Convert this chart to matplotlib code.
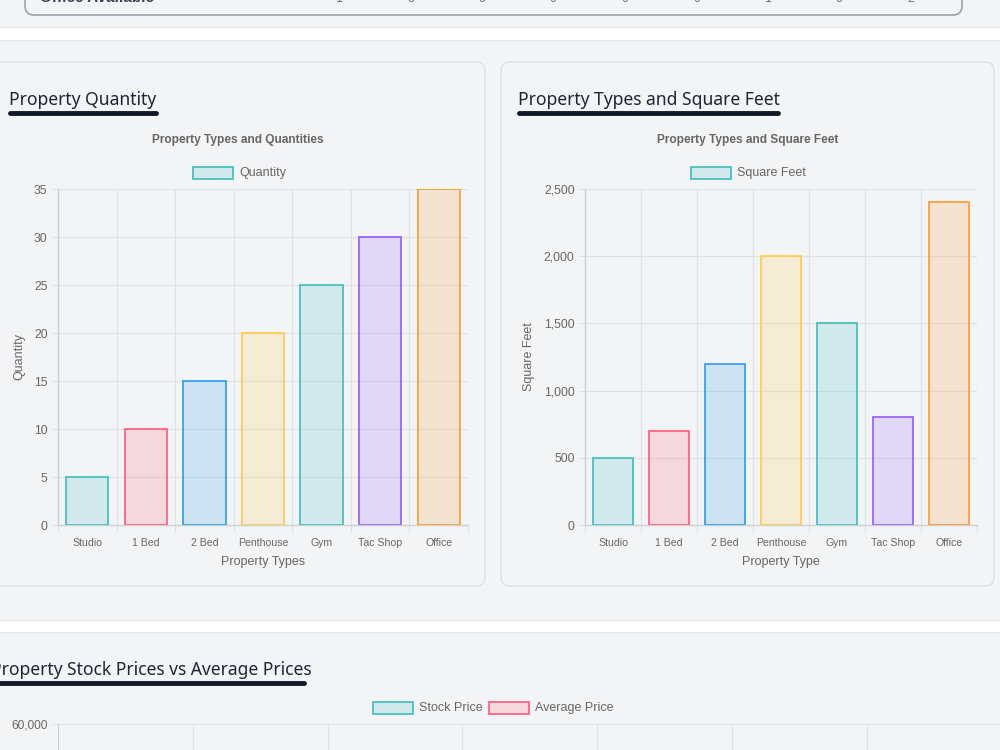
import matplotlib
matplotlib.use("Agg")
import matplotlib.pyplot as plt
from matplotlib.patches import FancyBboxPatch, Rectangle
from matplotlib.colors import to_rgba
from matplotlib.ticker import FuncFormatter

# data
property_types = ["Studio", "1 Bed", "2 Bed", "Penthouse", "Gym", "Tac Shop", "Office"]
quantities = [5, 10, 15, 20, 25, 30, 35]
square_feet = [500, 700, 1200, 2000, 1500, 800, 2400]
table_row_label = "Office Available"
table_row_values = [1, 0, 0, 0, 0, 0, 1, 0, 2]

# chart.js default palette
borders = ["#4bc0c0", "#ff6384", "#36a2eb", "#ffcd56", "#4bc0c0", "#9966ff", "#ff9f40"]
fills = [to_rgba(c, 0.2) for c in borders]

BG = "#f3f4f6"
GRID = "#e0e1e3"
AXIS = "#cfd0d2"
TXT = "#666666"
HEAD = "#1e2533"
CHART_FONT = "Liberation Sans"
HEAD_FONT = "Noto Sans"

W, H = 1000, 750
fig = plt.figure(figsize=(10, 7.5), dpi=100, facecolor=BG)

# background layer in pixel coordinates
bg = fig.add_axes([0, 0, 1, 1])
bg.set_xlim(0, W)
bg.set_ylim(H, 0)
bg.axis("off")


def px_axes(x0, y0, x1, y1):
    return fig.add_axes([x0 / W, 1 - y1 / H, (x1 - x0) / W, (y1 - y0) / H])


def card(x0, y0, x1, y1, edge="#dcdfe3", lw=1.0):
    bg.add_patch(FancyBboxPatch((x0, y0), x1 - x0, y1 - y0,
                                boxstyle="round,pad=0,rounding_size=9",
                                facecolor=BG, edgecolor=edge, linewidth=lw))


def heading(x, y, text, underline_to):
    bg.text(x, y + 2, text, fontsize=12.6, family=HEAD_FONT, color=HEAD,
            ha="left", va="center")
    bg.plot([x + 1, underline_to], [y + 15, y + 15], color="#111827",
            linewidth=3.5, solid_capstyle="round")


def legend_item(x, y, color, label):
    bg.add_patch(Rectangle((x, y - 6), 40, 12, facecolor=to_rgba(color, 0.2),
                           edgecolor=color, linewidth=1.3))
    bg.text(x + 46, y, label, fontsize=9, family=CHART_FONT, color=TXT,
            ha="left", va="center")


# top table box (mostly scrolled out of view)
card(25, -30, 962, 15, edge="#a3a7ae", lw=1.3)
bg.text(40, 2, table_row_label, fontsize=11, family=CHART_FONT,
        fontweight="bold", color="#374151", ha="left", va="baseline")
for i, v in enumerate(table_row_values):
    bg.text(339 + i * 71.5, 2, str(v), fontsize=9, family=CHART_FONT,
            color="#6b7280", ha="center", va="baseline")

# white separator bands
for y0, y1 in [(27, 40), (620, 632)]:
    bg.add_patch(Rectangle((-5, y0), W + 10, y1 - y0, facecolor="white",
                           edgecolor="#e5e7eb", linewidth=0.8))

# cards
card(-20, 62, 485, 586)
card(501, 62, 994, 586)

heading(9, 98, "Property Quantity", 156)
heading(518, 98, "Property Types and Square Feet", 778)
heading(-9, 668, "Property Stock Prices vs Average Prices", 304)


def bar_chart(box, values, ymax, ystep, title, legend_label, legend_x,
              xlabel, ylabel, ylabel_x, comma=False):
    x0, y0, x1, y1 = box
    ax = px_axes(x0, y0, x1, y1)
    ax.set_facecolor("none")
    n = len(property_types)
    ax.bar(range(n), values, width=0.72, color=fills, edgecolor=borders,
           linewidth=1.3, zorder=3)
    ax.set_xlim(-0.5, n - 0.5)
    ax.set_ylim(0, ymax)
    ax.set_yticks(range(0, ymax + 1, ystep))
    if comma:
        ax.yaxis.set_major_formatter(FuncFormatter(lambda v, p: f"{int(v):,}"))
    ax.set_xticks(range(n))
    ax.set_xticklabels(property_types)
    ax.set_xticks([i - 0.5 for i in range(n + 1)], minor=True)
    ax.tick_params(axis="x", which="major", length=0, pad=9, labelsize=7.6,
                   labelcolor=TXT)
    ax.tick_params(axis="x", which="minor", length=5, color=GRID, width=0.8)
    ax.tick_params(axis="y", length=4.5, color=GRID, width=0.8, pad=3,
                   labelsize=8.8, labelcolor=TXT)
    for lab in ax.get_xticklabels() + ax.get_yticklabels():
        lab.set_family(CHART_FONT)
    ax.grid(True, axis="y", which="major", color=GRID, linewidth=0.8, zorder=0)
    ax.grid(True, axis="x", which="minor", color=GRID, linewidth=0.8, zorder=0)
    for s in ["top", "right"]:
        ax.spines[s].set_visible(False)
    for s in ["left", "bottom"]:
        ax.spines[s].set_color(AXIS)
        ax.spines[s].set_linewidth(1.0)
    cx = (x0 + x1) / 2
    bg.text(cx - 25 if not comma else cx - 33, 140, title, fontsize=8.6,
            family=CHART_FONT, fontweight="bold", color=TXT,
            ha="center", va="center")
    legend_item(legend_x, 173, borders[0], legend_label)
    bg.text(cx, 562, xlabel, fontsize=9, family=CHART_FONT, color=TXT,
            ha="center", va="center")
    bg.text(ylabel_x, 357, ylabel, fontsize=9, family=CHART_FONT, color=TXT,
            ha="center", va="center", rotation=90)
    return ax


bar_chart((58, 189, 468, 525), quantities, 35, 5,
          "Property Types and Quantities", "Quantity", 193,
          "Property Types", "Quantity", 19)
bar_chart((585, 189, 977, 525), square_feet, 2500, 500,
          "Property Types and Square Feet", "Square Feet", 691,
          "Property Type", "Square Feet", 529, comma=True)

# bottom chart: only the top of its plot area is visible
legend_item(373, 708, borders[0], "Stock Price")
legend_item(489, 708, borders[1], "Average Price")
axb = px_axes(58, 724, 58 + 7 * 134.8, 1060)
axb.set_facecolor("none")
axb.set_xlim(-0.5, 6.5)
axb.set_ylim(0, 60000)
axb.set_yticks(range(0, 60001, 10000))
axb.yaxis.set_major_formatter(FuncFormatter(lambda v, p: f"{int(v):,}"))
axb.set_xticks([i - 0.5 for i in range(8)], minor=True)
axb.set_xticks([])
axb.tick_params(axis="y", length=4.5, color=GRID, width=0.8, pad=3,
                labelsize=8.6, labelcolor=TXT)
for lab in axb.get_yticklabels():
    lab.set_family(CHART_FONT)
axb.grid(True, axis="y", color=GRID, linewidth=0.8)
axb.grid(True, axis="x", which="minor", color=GRID, linewidth=0.8)
for s in ["top", "right", "bottom"]:
    axb.spines[s].set_visible(False)
axb.spines["left"].set_color(AXIS)

fig.savefig("out.png", dpi=100, facecolor=BG)
